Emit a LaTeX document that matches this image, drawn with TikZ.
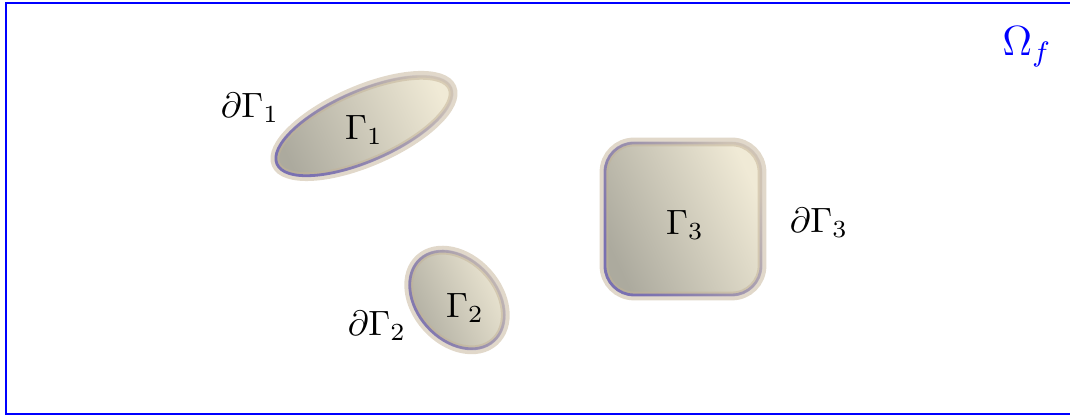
\documentclass[tikz,border=0pt]{standalone}
\usepackage{amsmath}
\usepackage{amssymb}
\usetikzlibrary{fadings}

\definecolor{bodygray}{RGB}{172,170,158}
\definecolor{bodycream}{RGB}{240,234,214}
\definecolor{rimblue}{RGB}{115,105,180}
\definecolor{rimtan}{RGB}{195,178,150}
\tikzfading[name=rimfade, bottom color=transparent!10, top color=transparent!90]

\begin{document}
\begin{tikzpicture}[
  body/.style={bottom color=bodygray, top color=bodycream, shading angle=-65},
  halo/.style={draw=rimtan, line width=2.5pt, opacity=0.5},
  rim/.style={draw=rimblue, line width=0.8pt, path fading=rimfade, fading angle=-55}
]
\useasboundingbox (0,0) rectangle (10.70,4.17);

% Fluid domain
\draw[blue, line width=0.6pt] (0.06,0.03) rectangle (10.85,4.14);
\node[blue] (omega) at (10.27,3.70) {\large $\Omega_f$};

% Obstacle 1
\begin{scope}[shift={(3.64,2.91)}, rotate=23.6]
\shade[body] (0,0) ellipse (0.96 and 0.36);
\draw[halo] (0,0) ellipse (0.96 and 0.36);
\draw[rim] (0,0) ellipse (0.95 and 0.35);
\end{scope}
\node (g1) at (3.64,2.87) {$\Gamma_1$};
\node (dg1) at (2.50,3.09) {$\partial\Gamma_1$};

% Obstacle 2
\begin{scope}[shift={(4.57,1.17)}, rotate=-48]
\shade[body] (0,0) ellipse (0.56 and 0.41);
\draw[halo] (0,0) ellipse (0.56 and 0.41);
\draw[rim] (0,0) ellipse (0.55 and 0.40);
\end{scope}
\node (g2) at (4.65,1.09) {$\Gamma_2$};
\node (dg2) at (3.77,0.91) {$\partial\Gamma_2$};

% Obstacle 3
\shade[body, rounded corners=0.30cm] (6.04,1.21) rectangle (7.62,2.75);
\draw[halo, rounded corners=0.30cm] (6.04,1.21) rectangle (7.62,2.75);
\draw[rim, rounded corners=0.29cm] (6.05,1.22) rectangle (7.61,2.74);
\node (g3) at (6.85,1.92) {$\Gamma_3$};
\node (dg3) at (8.19,1.94) {$\partial\Gamma_3$};
\end{tikzpicture}
\end{document}
